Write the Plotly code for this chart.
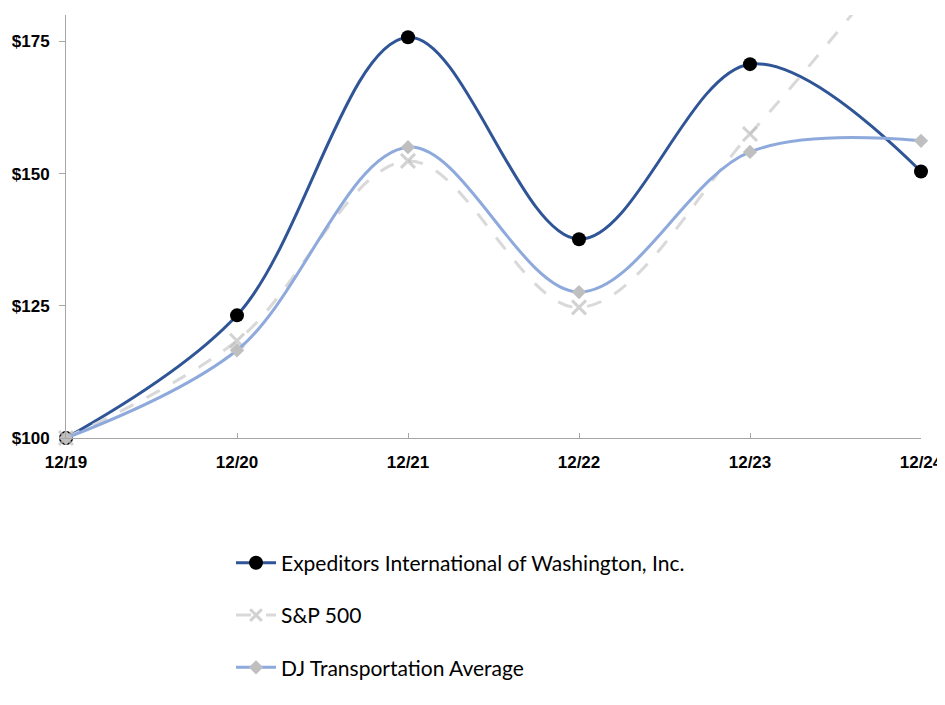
import plotly.graph_objects as go

periods = ["12/19", "12/20", "12/21", "12/22", "12/23", "12/24"]
expd = [100, 123.2, 175.8, 137.6, 170.7, 150.4]
sp500 = [100, 118.4, 152.4, 124.7, 157.5, 196.2]
djta = [100, 116.6, 155.0, 127.6, 154.1, 156.2]

fig = go.Figure()

fig.add_trace(go.Scatter(
    x=periods, y=expd, name="Expeditors International of Washington, Inc.", legendgroup="a",
    mode="lines+markers", line=dict(color="#2F5597", width=3, shape="spline", smoothing=1.0),
    marker=dict(symbol="circle", size=14, color="black"), cliponaxis=False))
fig.add_trace(go.Scatter(
    x=periods, y=sp500, name="S&P 500", legendgroup="b",
    mode="lines+markers", line=dict(color="#D9D9D9", width=3, dash="longdash", shape="spline", smoothing=1.0),
    marker=dict(symbol="x-thin", size=[14, 14, 14, 14, 14, 0], color="#BFBFBF",
                line=dict(color="#BFBFBF", width=3)), cliponaxis=False))
fig.add_trace(go.Scatter(
    x=periods, y=djta, name="DJ Transportation Average", legendgroup="c",
    mode="lines+markers", line=dict(color="#8EA9DB", width=3, shape="spline", smoothing=1.0),
    marker=dict(symbol="diamond", size=11, color="#BFBFBF"), cliponaxis=False))

tickfont = dict(family="Liberation Sans, Arial", size=17, color="black", weight="bold")

fig.update_layout(
    width=937, height=689,
    margin=dict(l=58, r=24, t=7, b=259),
    plot_bgcolor="white", paper_bgcolor="white",
    showlegend=True,
    legend=dict(orientation="v", x=0.193, xanchor="left", y=-0.59, yanchor="bottom",
                font=dict(family="Lato, Open Sans, sans-serif", size=21, color="black"),
                tracegroupgap=22, itemwidth=40),
    xaxis=dict(range=[0, 5], showline=True, linecolor="#A6A6A6", linewidth=1, automargin=False,
               ticks="inside", ticklen=5, tickcolor="#A6A6A6", showgrid=False, zeroline=False,
               ticklabelstandoff=9, tickfont=tickfont),
    yaxis=dict(range=[100, 180], tickvals=[100, 125, 150, 175],
               ticktext=["$100", "$125", "$150", "$175"], automargin=False,
               showline=True, linecolor="#A6A6A6", linewidth=1,
               ticks="outside", ticklen=6, tickcolor="#A6A6A6", showgrid=False, zeroline=False,
               ticklabelstandoff=6, tickfont=tickfont),
)

fig.write_html("out.html")
